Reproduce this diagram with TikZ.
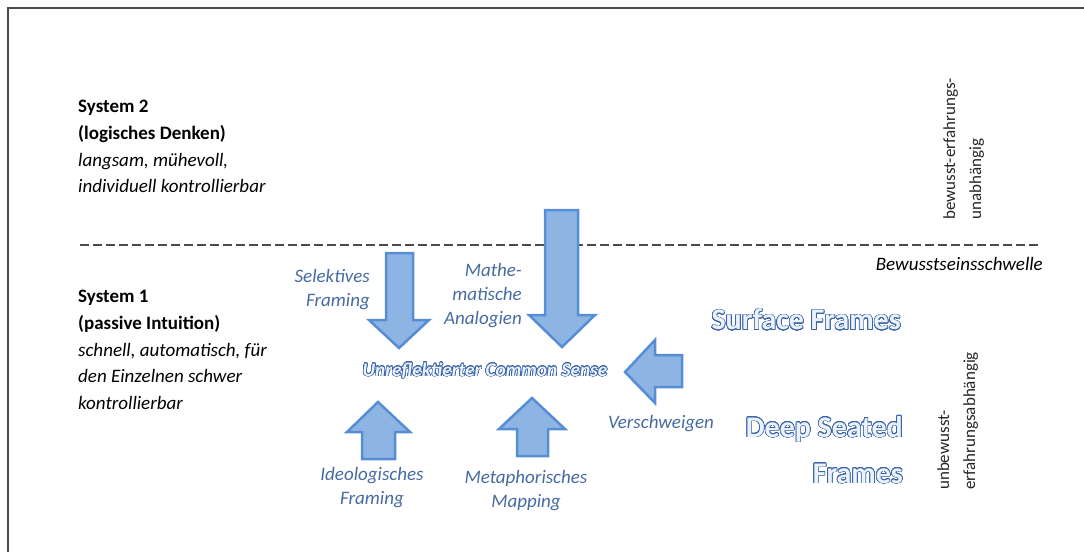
\documentclass[tikz,border=0pt]{standalone}
\usepackage{fontspec}
\setmainfont{Carlito}
\usepackage{contour}
\usepackage{tikz}
\usetikzlibrary{positioning}
\usepackage{xcolor}
\definecolor{arrowfill}{RGB}{142,180,227}
\definecolor{arrowline}{RGB}{85,142,213}
\definecolor{labelblue}{RGB}{70,106,162}
\definecolor{outlineblue}{RGB}{58,100,170}
\definecolor{glowfill}{RGB}{236,242,250}
\contourlength{0.65pt}
\contournumber{24}

\begin{document}
\begin{tikzpicture}[x=1pt,y=-1pt,
blockarrow/.style={fill=arrowfill,draw=arrowline,line width=2.5pt,line join=miter},
sysbox/.style={inner sep=0pt,align=left,font=\fontsize{19}{26.7}\selectfont},
bluetext/.style={inner sep=0pt,text=labelblue,font=\fontsize{19}{24}\selectfont\itshape},
sidetext/.style={inner sep=0pt,rotate=90,align=left,text=black!85,font=\fontsize{17}{26}\selectfont},
framestext/.style={inner sep=0pt,align=right,text=glowfill,font=\fontsize{30}{46}\selectfont\bfseries}]

\useasboundingbox (0,0) rectangle (1084,552);
\draw[line width=2pt,black!70] (8,552) -- (8,8) -- (1084,8);
\draw[line width=2.8pt,black!70,dash pattern=on 9pt off 4pt] (80,245) -- (1040,245);

% the two systems
\node[sysbox,anchor=north west] (sys2) at (78,100) {\textbf{System 2}\\\textbf{(logisches Denken)}\\\textit{langsam, mühevoll,}\\\textit{individuell kontrollierbar}};
\node[sysbox,anchor=north west] (sys1) at (78,290) {\textbf{System 1}\\\textbf{(passive Intuition)}\\\textit{schnell, automatisch, für}\\\textit{den Einzelnen schwer}\\\textit{kontrollierbar}};
\node[anchor=base east,inner sep=0pt,font=\fontsize{19}{22}\selectfont\itshape] (schwelle) at (1043,270) {Bewusstseinsschwelle};

% block arrows
\draw[blockarrow] (386,253) -- (413,253) -- (413,320) -- (429,320) -- (399,348) -- (369,320) -- (386,320) -- cycle;
\draw[blockarrow] (545,210) -- (578,210) -- (578,315) -- (595,315) -- (562,347) -- (529,315) -- (545,315) -- cycle;
\draw[blockarrow] (682,355) -- (682,387) -- (655,387) -- (655,403) -- (625,372) -- (655,340) -- (655,355) -- cycle;
\draw[blockarrow] (362,459) -- (362,432) -- (347,432) -- (378,402) -- (410,432) -- (395,432) -- (395,459) -- cycle;
\draw[blockarrow] (517,456) -- (517,429) -- (499,429) -- (532,398) -- (565,429) -- (548,429) -- (548,456) -- cycle;

% arrow labels
\node[bluetext,align=right,anchor=north east] (selektiv) at (370,269) {Selektives\\Framing};
\node[bluetext,align=right,anchor=north east] (mathe) at (522,263) {Mathe-\\matische\\Analogien};
\node[bluetext,align=center,anchor=north] (ideo) at (372,467) {Ideologisches\\Framing};
\node[bluetext,align=center,anchor=north] (meta) at (526,470) {Metaphorisches\\Mapping};
\node[bluetext] (versch) at (661,424) {Verschweigen};
\node[inner sep=0pt,text=glowfill,font=\fontsize{19.3}{22}\selectfont\bfseries\itshape] (sense) at (485,371) {\contour{outlineblue}{Unreflektierter Common Sense}};

% frames
\node[framestext,anchor=east] (surface) at (901,320) {\contour{outlineblue}{Surface Frames}};
\node[framestext,anchor=north east] (deep) at (903,416) {\contour{outlineblue}{Deep Seated}\\\contour{outlineblue}{Frames}};

% right margin
\node[sidetext,anchor=north west] (bewusst) at (943,220) {bewusst-erfahrungs-\\unabhängig};
\node[sidetext,anchor=north west] (unbewusst) at (937,490) {unbewusst-\\erfahrungsabhängig};

\end{tikzpicture}
\end{document}
